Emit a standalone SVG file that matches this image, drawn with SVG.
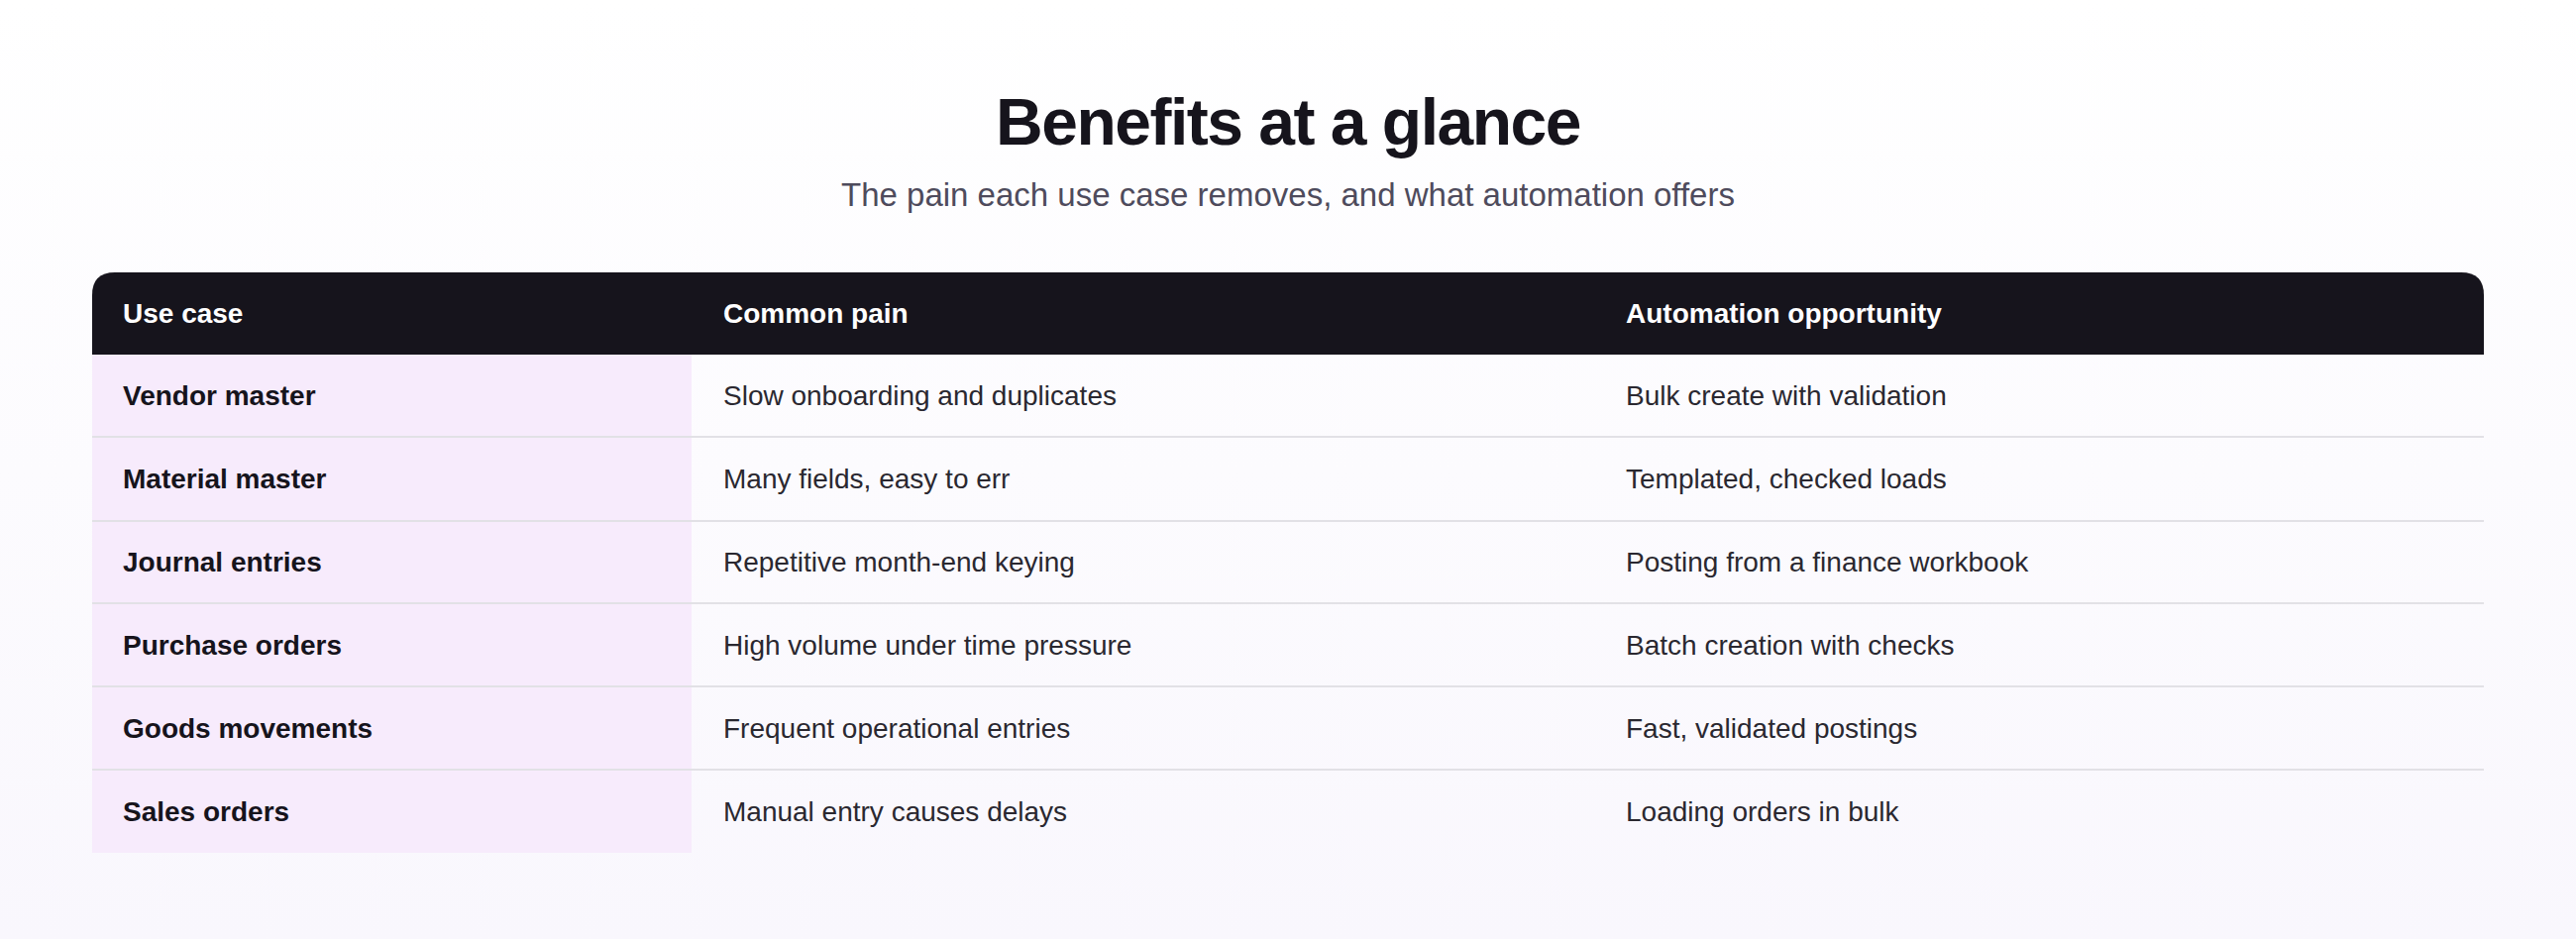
<svg xmlns="http://www.w3.org/2000/svg" width="2600" height="948" viewBox="0 0 2600 948">
<defs>
<linearGradient id="bg" x1="0" y1="0" x2="0" y2="1"><stop offset="0" stop-color="#ffffff"/><stop offset="1" stop-color="#f9f7fd"/></linearGradient>
<style>
text{font-family:"Liberation Sans",Arial,sans-serif}
.h{fill:#ffffff;font-size:28px;font-weight:bold}
.k{fill:#16141c;font-size:28px;font-weight:bold}
.c{fill:#2a2830;font-size:28px}
.sep{stroke:#e2e1e6;stroke-width:2}
</style>
</defs>
<rect width="2600" height="948" fill="url(#bg)"/>
<text x="1300" y="146" text-anchor="middle" font-size="66" font-weight="bold" fill="#16141c" letter-spacing="-1.5">Benefits at a glance</text>
<text x="1300" y="208" text-anchor="middle" font-size="33" fill="#4e4b5c">The pain each use case removes, and what automation offers</text>
<g id="header">
<path d="M93 358 V298 Q93 275 116 275 H2484 Q2507 275 2507 298 V358 Z" fill="#16141c"/>
<text class="h" x="124" y="326">Use case</text>
<text class="h" x="730" y="326">Common pain</text>
<text class="h" x="1641" y="326">Automation opportunity</text>
</g>
<g id="rows">
<rect x="93" y="358" width="605" height="503" fill="#f7ebfc"/>
<g id="connectors">
<line class="sep" x1="93" y1="441" x2="2507" y2="441"/>
<line class="sep" x1="93" y1="526" x2="2507" y2="526"/>
<line class="sep" x1="93" y1="609" x2="2507" y2="609"/>
<line class="sep" x1="93" y1="693" x2="2507" y2="693"/>
<line class="sep" x1="93" y1="777" x2="2507" y2="777"/>
</g>
<g id="r1"><text class="k" x="124" y="409">Vendor master</text><text class="c" x="730" y="409">Slow onboarding and duplicates</text><text class="c" x="1641" y="409">Bulk create with validation</text></g>
<g id="r2"><text class="k" x="124" y="493">Material master</text><text class="c" x="730" y="493">Many fields, easy to err</text><text class="c" x="1641" y="493">Templated, checked loads</text></g>
<g id="r3"><text class="k" x="124" y="577">Journal entries</text><text class="c" x="730" y="577">Repetitive month-end keying</text><text class="c" x="1641" y="577">Posting from a finance workbook</text></g>
<g id="r4"><text class="k" x="124" y="661">Purchase orders</text><text class="c" x="730" y="661">High volume under time pressure</text><text class="c" x="1641" y="661">Batch creation with checks</text></g>
<g id="r5"><text class="k" x="124" y="745">Goods movements</text><text class="c" x="730" y="745">Frequent operational entries</text><text class="c" x="1641" y="745">Fast, validated postings</text></g>
<g id="r6"><text class="k" x="124" y="829">Sales orders</text><text class="c" x="730" y="829">Manual entry causes delays</text><text class="c" x="1641" y="829">Loading orders in bulk</text></g>
</g>
</svg>
